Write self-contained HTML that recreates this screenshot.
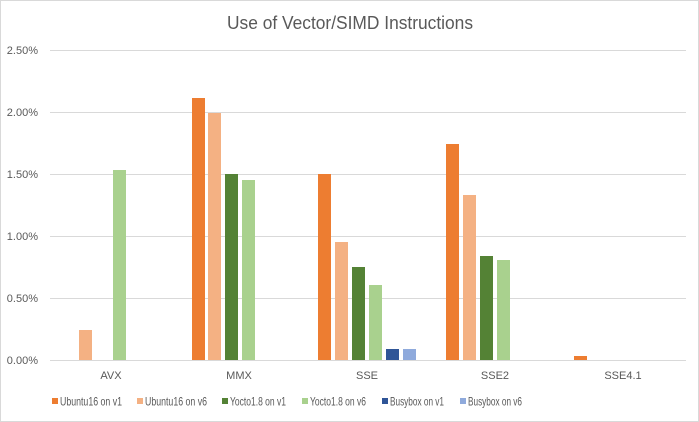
<!DOCTYPE html>
<html><head><meta charset="utf-8"><style>
html,body{margin:0;padding:0;background:#fff}
svg{display:block}
text{font-family:"Liberation Sans",sans-serif;fill:#595959}
</style></head><body>
<svg width="699" height="422" viewBox="0 0 699 422" xmlns="http://www.w3.org/2000/svg">
<rect x="0.5" y="0.5" width="698" height="421" fill="#fff" stroke="#d9d9d9"/>
<text x="350" y="29" font-size="18" text-anchor="middle" textLength="246" lengthAdjust="spacingAndGlyphs">Use of Vector/SIMD Instructions</text>
<g stroke="#d9d9d9" stroke-width="1">
<line x1="50" x2="686" y1="50.5" y2="50.5"/>
<line x1="50" x2="686" y1="112.5" y2="112.5"/>
<line x1="50" x2="686" y1="174.5" y2="174.5"/>
<line x1="50" x2="686" y1="236.5" y2="236.5"/>
<line x1="50" x2="686" y1="298.5" y2="298.5"/>
<line x1="50" x2="686" y1="360.5" y2="360.5"/>
</g>
<g font-size="11" text-anchor="end">
<text x="38" y="54">2.50%</text>
<text x="38" y="116">2.00%</text>
<text x="38" y="178">1.50%</text>
<text x="38" y="240">1.00%</text>
<text x="38" y="302">0.50%</text>
<text x="38" y="364">0.00%</text>
</g>
<g>
<rect x="79" y="330" width="13" height="30" fill="#f4b183"/>
<rect x="113" y="170" width="13" height="190" fill="#a9d18e"/>
<rect x="192" y="98" width="13" height="262" fill="#ed7d31"/>
<rect x="208" y="113" width="13" height="247" fill="#f4b183"/>
<rect x="225" y="174" width="13" height="186" fill="#548235"/>
<rect x="242" y="180" width="13" height="180" fill="#a9d18e"/>
<rect x="318" y="174" width="13" height="186" fill="#ed7d31"/>
<rect x="335" y="242" width="13" height="118" fill="#f4b183"/>
<rect x="352" y="267" width="13" height="93" fill="#548235"/>
<rect x="369" y="285" width="13" height="75" fill="#a9d18e"/>
<rect x="386" y="349" width="13" height="11" fill="#2f5597"/>
<rect x="403" y="349" width="13" height="11" fill="#8faadc"/>
<rect x="446" y="144" width="13" height="216" fill="#ed7d31"/>
<rect x="463" y="195" width="13" height="165" fill="#f4b183"/>
<rect x="480" y="256" width="13" height="104" fill="#548235"/>
<rect x="497" y="260" width="13" height="100" fill="#a9d18e"/>
<rect x="574" y="356" width="13" height="4" fill="#ed7d31"/>
</g>
<g font-size="11" text-anchor="middle">
<text x="111" y="379">AVX</text>
<text x="239" y="379">MMX</text>
<text x="367" y="379">SSE</text>
<text x="495" y="379">SSE2</text>
<text x="623" y="379">SSE4.1</text>
</g>
<g font-size="12">
<rect x="52" y="398" width="6" height="6" fill="#ed7d31"/><text x="60" y="405.5" textLength="62" lengthAdjust="spacingAndGlyphs">Ubuntu16 on v1</text>
<rect x="137" y="398" width="6" height="6" fill="#f4b183"/><text x="145" y="405.5" textLength="62" lengthAdjust="spacingAndGlyphs">Ubuntu16 on v6</text>
<rect x="222" y="398" width="6" height="6" fill="#548235"/><text x="230" y="405.5" textLength="56" lengthAdjust="spacingAndGlyphs">Yocto1.8 on v1</text>
<rect x="302" y="398" width="6" height="6" fill="#a9d18e"/><text x="310" y="405.5" textLength="56" lengthAdjust="spacingAndGlyphs">Yocto1.8 on v6</text>
<rect x="382" y="398" width="6" height="6" fill="#2f5597"/><text x="390" y="405.5" textLength="54" lengthAdjust="spacingAndGlyphs">Busybox on v1</text>
<rect x="460" y="398" width="6" height="6" fill="#8faadc"/><text x="468" y="405.5" textLength="54" lengthAdjust="spacingAndGlyphs">Busybox on v6</text>
</g>
</svg>
</body></html>
